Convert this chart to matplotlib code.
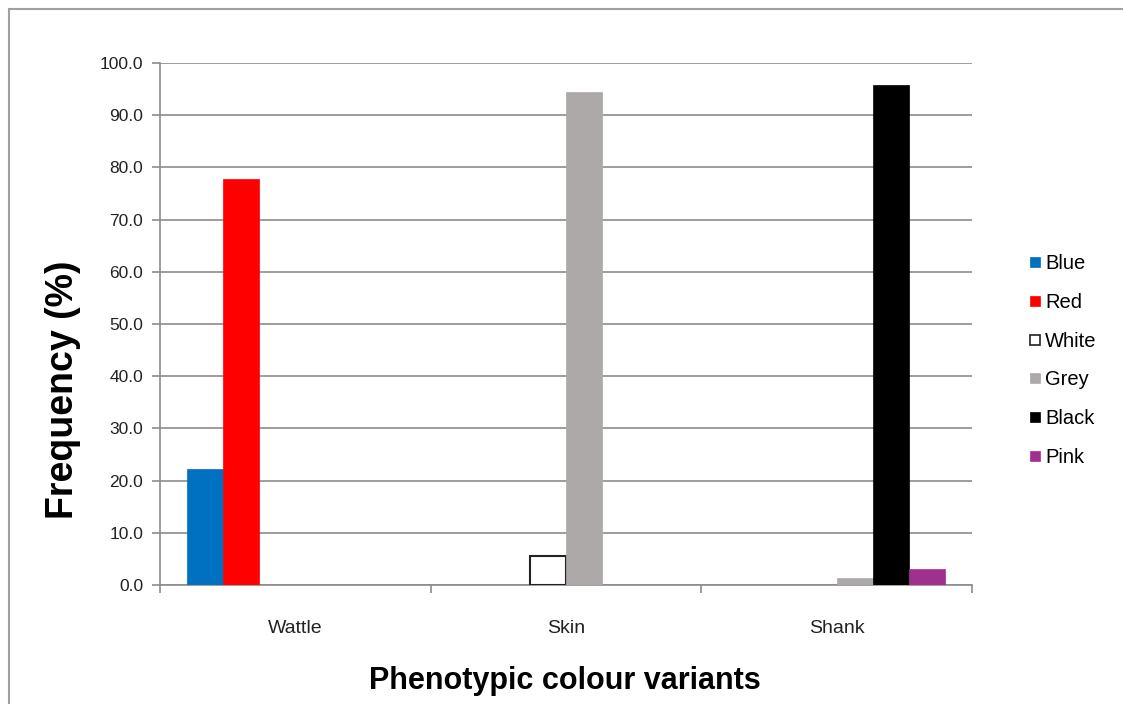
import numpy as np
import matplotlib.pyplot as plt
from matplotlib.patches import Rectangle
from matplotlib.lines import Line2D

# Frequency (%) of each colour variant per trait
categories = ["Wattle", "Skin", "Shank"]
series = ["Blue", "Red", "White", "Grey", "Black", "Pink"]
blue = [22.2, 0.0, 0.0]
red = [77.8, 0.0, 0.0]
white = [0.0, 5.6, 0.0]
grey = [0.0, 94.4, 1.3]
black = [0.0, 0.0, 95.8]
pink = [0.0, 0.0, 3.1]
values = [blue, red, white, grey, black, pink]

faces = ["#0070C0", "#FF0000", "#FFFFFF", "#ADA9A9", "#000000", "#A0308F"]
edges = ["#0070C0", "#FF0000", "#222222", "#ADA9A9", "#000000", "#A0308F"]

plt.rcParams["font.family"] = ["Liberation Sans Narrow", "Liberation Sans", "DejaVu Sans"]

fig = plt.figure(figsize=(11.23, 7.04), dpi=100)
ax = fig.add_axes([0.1425, 0.169, 0.723, 0.7415])

# outer chart border
fig.patches.append(Rectangle((0.008, -0.01), 0.995, 0.997, transform=fig.transFigure,
                             fill=False, edgecolor="#A0A0A0", linewidth=1.5))

x = np.arange(len(categories))
w = 0.1333
for i, (name, vals) in enumerate(zip(series, values)):
    vals = np.array(vals)
    mask = vals > 0
    ax.bar(x[mask] + (i - 2.5) * w, vals[mask], width=w, color=faces[i],
           edgecolor=edges[i], linewidth=1.5 if name == "White" else 0.5, zorder=3)

ax.set_xlim(-0.5, 2.5)
ax.set_ylim(0, 100)
ax.set_yticks(np.arange(0, 101, 10))
ax.set_yticklabels([f"{v:.1f}" for v in np.arange(0, 101, 10)], fontsize=12.5,
                   color="#222222")
ax.yaxis.grid(True, color="#8C8C8C", linewidth=1.2, zorder=0)
ax.set_axisbelow(True)

ax.set_xticks([-0.5, 0.5, 1.5, 2.5])
ax.set_xticklabels([])
ax.set_xticks(x, minor=True)
ax.set_xticklabels(categories, minor=True, fontsize=14, color="#222222")
ax.tick_params(axis="x", which="minor", length=0, pad=25)
ax.tick_params(axis="x", which="major", length=6, color="#8C8C8C", width=1.2)
ax.tick_params(axis="y", length=6, color="#8C8C8C", width=1.2, pad=6)

for s in ["top", "right"]:
    ax.spines[s].set_visible(False)
for s in ["left", "bottom"]:
    ax.spines[s].set_color("#8C8C8C")
    ax.spines[s].set_linewidth(1.2)

fig.text(565 / 1123, 1 - 681 / 704, "Phenotypic colour variants", ha="center",
         va="center", fontsize=22, fontweight="bold")
ax.text(-0.12, 0.375, "Frequency (%)", transform=ax.transAxes, rotation=90,
        ha="center", va="center", fontsize=27, fontweight="bold")

handles = [Line2D([], [], marker="s", linestyle="none", markersize=7,
                  markerfacecolor=faces[i], markeredgecolor=edges[i],
                  markeredgewidth=1.2 if series[i] == "White" else 0.5)
           for i in range(len(series))]
fig.legend(handles, series, loc="center left", bbox_to_anchor=(0.9, 0.488),
           frameon=False, fontsize=14.5, handlelength=0.6, handletextpad=0.2,
           labelspacing=0.98)

fig.savefig("out.png", dpi=100)
